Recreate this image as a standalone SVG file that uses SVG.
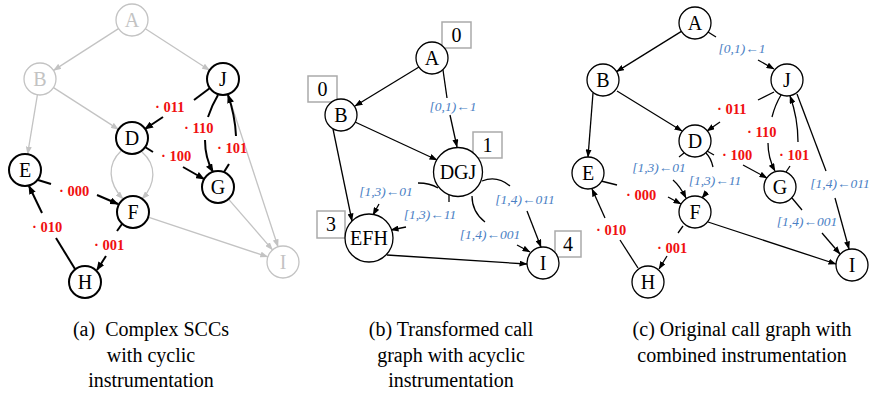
<svg xmlns="http://www.w3.org/2000/svg" width="882" height="395" viewBox="0 0 882 395">
  <style>
    .nd circle { fill: #fff; stroke: #000; stroke-width: 1.3; }
    .nd text { font-family: "Liberation Serif", "Tinos", "DejaVu Serif", serif; font-size: 20px; text-anchor: middle; fill: #000; }
    .thick circle { stroke-width: 2; }
    .grey circle { stroke: #c3c3c3; stroke-width: 1.3; }
    .grey text { fill: #c3c3c3; }
    .box rect { fill: #fff; stroke: #aaa; stroke-width: 1.5; }
    .box text { font-family: "Liberation Serif", "Tinos", "DejaVu Serif", serif; font-size: 20px; text-anchor: middle; fill: #000; }
    .e { fill: none; stroke: #000; stroke-width: 1.3; }
    .ea { fill: none; stroke: #000; stroke-width: 2; }
    .eg { fill: none; stroke: #c3c3c3; stroke-width: 1.3; }
    .lr { font-family: "Liberation Serif", "Tinos", "DejaVu Serif", serif; font-size: 14.5px; font-weight: bold; fill: #f01010; }
    .lb { font-family: "Liberation Serif", "Tinos", "DejaVu Serif", serif; font-size: 13.5px; font-style: italic; fill: #4a80c4; text-anchor: middle; }
    .cap { font-family: "Liberation Serif", "Tinos", "DejaVu Serif", serif; font-size: 20px; text-anchor: middle; fill: #000; }
  </style>
  <defs>
    <marker id="ak" viewBox="0 0 8 6" refX="7.5" refY="3" markerWidth="8" markerHeight="6" markerUnits="userSpaceOnUse" orient="auto">
      <path d="M0,0 L8,3 L0,6 z" fill="#000"/>
    </marker>
    <marker id="aa" viewBox="0 0 9 7" refX="8" refY="3.5" markerWidth="9" markerHeight="7" markerUnits="userSpaceOnUse" orient="auto">
      <path d="M0,0 L9,3.5 L0,7 z" fill="#000"/>
    </marker>
    <marker id="ag" viewBox="0 0 8 6" refX="7.5" refY="3" markerWidth="8" markerHeight="6" markerUnits="userSpaceOnUse" orient="auto">
      <path d="M0,0 L8,3 L0,6 z" fill="#c3c3c3"/>
    </marker>
  </defs>

  <!-- ===== (a) complex SCCs with cyclic instrumentation ===== -->
  <g id="edges-a">
    <path class="eg" d="M118.5,28.6 L53.5,70.4" marker-end="url(#ag)"/>
    <path class="eg" d="M145.4,28.7 L209.6,70.3" marker-end="url(#ag)"/>
    <path class="eg" d="M53.5,87.6 L118.5,129.4" marker-end="url(#ag)"/>
    <path class="eg" d="M37.4,94.8 L27.6,154.2" marker-end="url(#ag)"/>
    <path class="eg" d="M228,94.2 L278,246.8" marker-end="url(#ag)"/>
    <path class="eg" d="M228.5,199.1 L272.5,249.9" marker-end="url(#ag)"/>
    <path class="eg" d="M148.2,217.1 L267.8,256.9" marker-end="url(#ag)"/>
    <path class="eg" d="M121,151 C107,164 108,183 123,199" marker-end="url(#ag)"/>
    <path class="eg" d="M142,152 C157,165 156,184 142,199" marker-end="url(#ag)"/>

    <path class="ea" d="M210,88 L194,100"/>
    <path class="ea" d="M163,117 L145,129" marker-end="url(#aa)"/>
    <path class="ea" d="M218,95 Q212,105 208,117"/>
    <path class="ea" d="M205,140 Q205,158 213,172" marker-end="url(#aa)"/>
    <path class="ea" d="M224,172 L229,164"/>
    <path class="ea" d="M236,136 Q235,115 228,95" marker-end="url(#aa)"/>
    <path class="ea" d="M145,147 L153,152"/>
    <path class="ea" d="M183,167 L204,179" marker-end="url(#aa)"/>
    <path class="ea" d="M38,180 L51,184"/>
    <path class="ea" d="M97,195 L118,204" marker-end="url(#aa)"/>
    <path class="ea" d="M122,224 L117,231"/>
    <path class="ea" d="M106,256 L97,270" marker-end="url(#aa)"/>
    <path class="ea" d="M75,269 L56,238"/>
    <path class="ea" d="M42,213 L29,186" marker-end="url(#aa)"/>

    <text class="lr" x="155" y="112">· 011</text>
    <text class="lr" x="184" y="133">· 110</text>
    <text class="lr" x="217" y="153">· 101</text>
    <text class="lr" x="161" y="161">· 100</text>
    <text class="lr" x="59" y="196">· 000</text>
    <text class="lr" x="32" y="232">· 010</text>
    <text class="lr" x="94" y="250">· 001</text>
  </g>
  <g id="a-A" class="nd grey"><circle cx="132" cy="20" r="16"/><text x="132" y="27">A</text></g>
  <g id="a-B" class="nd grey"><circle cx="40" cy="79" r="16"/><text x="40" y="86">B</text></g>
  <g id="a-J" class="nd thick"><circle cx="223" cy="79" r="16"/><text x="223" y="86">J</text></g>
  <g id="a-D" class="nd thick"><circle cx="132" cy="138" r="16"/><text x="132" y="145">D</text></g>
  <g id="a-E" class="nd thick"><circle cx="25" cy="170" r="16"/><text x="25" y="177">E</text></g>
  <g id="a-F" class="nd thick"><circle cx="133" cy="212" r="16"/><text x="133" y="219">F</text></g>
  <g id="a-G" class="nd thick"><circle cx="218" cy="187" r="16"/><text x="218" y="194">G</text></g>
  <g id="a-H" class="nd thick"><circle cx="85" cy="282" r="16"/><text x="85" y="289">H</text></g>
  <g id="a-I" class="nd grey"><circle cx="283" cy="262" r="16"/><text x="283" y="269">I</text></g>

  <!-- ===== (b) transformed call graph with acyclic instrumentation ===== -->
  <g id="boxes-b" class="box">
    <rect x="442" y="22" width="29" height="26"/><text x="456.5" y="42">0</text>
    <rect x="308" y="76" width="29" height="26"/><text x="322.5" y="96">0</text>
    <rect x="473" y="132" width="29" height="26"/><text x="487.5" y="152">1</text>
    <rect x="317" y="211" width="28" height="27"/><text x="331" y="231">3</text>
    <rect x="555" y="231" width="26" height="26"/><text x="568" y="251">4</text>
  </g>
  <g id="edges-b">
    <path class="e" d="M419,67 L355,106" marker-end="url(#ak)"/>
    <path class="e" d="M443,70 L447,98"/>
    <path class="e" d="M450,115 L457,147" marker-end="url(#ak)"/>
    <path class="e" d="M355,122 L437,160" marker-end="url(#ak)"/>
    <path class="e" d="M333,129 L352,221" marker-end="url(#ak)"/>
    <path class="e" d="M387,255 L527,264" marker-end="url(#ak)"/>
    <path class="e" d="M418,183 Q430,183 438,188"/>
    <path class="e" d="M379,204 L373,215" marker-end="url(#ak)"/>
    <path class="e" d="M449,195 L449,202"/>
    <path class="e" d="M406,227 L391,230" marker-end="url(#ak)"/>
    <path class="e" d="M482,181 Q497,175 510,186"/>
    <path class="e" d="M527,211 L541,247" marker-end="url(#ak)"/>
    <path class="e" d="M472,196 Q472,212 485,222"/>
    <path class="e" d="M517,245 L530,252" marker-end="url(#ak)"/>

    <text class="lb" x="453" y="111">[0,1)←1</text>
    <text class="lb" x="386" y="196">[1,3)←01</text>
    <text class="lb" x="430" y="219">[1,3)←11</text>
    <text class="lb" x="525" y="204">[1,4)←011</text>
    <text class="lb" x="490" y="239">[1,4)←001</text>
  </g>
  <g id="b-A" class="nd"><circle cx="432" cy="58" r="16"/><text x="432" y="65">A</text></g>
  <g id="b-B" class="nd"><circle cx="341" cy="115" r="16"/><text x="341" y="122">B</text></g>
  <g id="b-DGJ" class="nd"><circle cx="458" cy="172" r="24.5"/><text x="458" y="179">DGJ</text></g>
  <g id="b-EFH" class="nd"><circle cx="369" cy="238" r="24"/><text x="369" y="245">EFH</text></g>
  <g id="b-I" class="nd"><circle cx="543" cy="263" r="16"/><text x="543" y="270">I</text></g>

  <!-- ===== (c) original call graph with combined instrumentation ===== -->
  <g id="edges-c">
    <path class="e" d="M681.4,31.4 L616.6,71.6" marker-end="url(#ak)"/>
    <path class="e" d="M708,32 L716,37"/>
    <path class="e" d="M758,60 L774,69" marker-end="url(#ak)"/>
    <path class="e" d="M593,93 L588,157" marker-end="url(#ak)"/>
    <path class="e" d="M617,91 L682,131" marker-end="url(#ak)"/>
    <path class="e" d="M774,92 L758,100"/>
    <path class="e" d="M720,122 L707,131" marker-end="url(#ak)"/>
    <path class="e" d="M781,95 Q775,105 772,117"/>
    <path class="e" d="M768,143 Q768,158 775,171" marker-end="url(#ak)"/>
    <path class="e" d="M786,172 L790,166"/>
    <path class="e" d="M798,142 Q798,118 790,96" marker-end="url(#ak)"/>
    <path class="e" d="M797,94 L826,171"/>
    <path class="e" d="M835,198 L849,249" marker-end="url(#ak)"/>
    <path class="e" d="M792,198 L802,210"/>
    <path class="e" d="M822,233 L840,254" marker-end="url(#ak)"/>
    <path class="e" d="M708,222 L836,264" marker-end="url(#ak)"/>
    <path class="e" d="M707,151 L714,155"/>
    <path class="e" d="M743,165 L767,178" marker-end="url(#ak)"/>
    <path class="e" d="M684,153 L679,157"/>
    <path class="e" d="M673,180 Q680,186 686,198" marker-end="url(#ak)"/>
    <path class="e" d="M706,153 Q711,158 713,167"/>
    <path class="e" d="M707,192 L702,198" marker-end="url(#ak)"/>
    <path class="e" d="M601,181 L617,185"/>
    <path class="e" d="M668,197 L681,204" marker-end="url(#ak)"/>
    <path class="e" d="M683,226 L678,233"/>
    <path class="e" d="M667,256 L659,269" marker-end="url(#ak)"/>
    <path class="e" d="M638,268 L620,240"/>
    <path class="e" d="M605,218 L592,189" marker-end="url(#ak)"/>

    <text class="lb" x="742" y="53">[0,1)←1</text>
    <text class="lb" x="659" y="172">[1,3)←01</text>
    <text class="lb" x="715" y="185">[1,3)←11</text>
    <text class="lb" x="840" y="188">[1,4)←011</text>
    <text class="lb" x="807" y="226">[1,4)←001</text>
    <text class="lr" x="717" y="114">· 011</text>
    <text class="lr" x="747" y="137">· 110</text>
    <text class="lr" x="779" y="160">· 101</text>
    <text class="lr" x="722" y="160">· 100</text>
    <text class="lr" x="626" y="200">· 000</text>
    <text class="lr" x="596" y="235">· 010</text>
    <text class="lr" x="657" y="253">· 001</text>
  </g>
  <g id="c-A" class="nd"><circle cx="695" cy="23" r="16"/><text x="695" y="30">A</text></g>
  <g id="c-B" class="nd"><circle cx="603" cy="80" r="16"/><text x="603" y="87">B</text></g>
  <g id="c-J" class="nd"><circle cx="787" cy="80" r="16"/><text x="787" y="87">J</text></g>
  <g id="c-D" class="nd"><circle cx="695" cy="141" r="16"/><text x="695" y="148">D</text></g>
  <g id="c-E" class="nd"><circle cx="588" cy="173" r="16"/><text x="588" y="180">E</text></g>
  <g id="c-F" class="nd"><circle cx="695" cy="212" r="16"/><text x="695" y="219">F</text></g>
  <g id="c-G" class="nd"><circle cx="780" cy="187" r="16"/><text x="780" y="194">G</text></g>
  <g id="c-H" class="nd"><circle cx="648" cy="282" r="16"/><text x="648" y="289">H</text></g>
  <g id="c-I" class="nd"><circle cx="852" cy="265" r="16"/><text x="852" y="272">I</text></g>

  <!-- captions -->
  <g id="captions">
    <text class="cap" x="151" y="336" xml:space="preserve">(a)  Complex SCCs</text>
    <text class="cap" x="151" y="362">with cyclic</text>
    <text class="cap" x="151" y="387">instrumentation</text>
    <text class="cap" x="451" y="336">(b) Transformed call</text>
    <text class="cap" x="451" y="362">graph with acyclic</text>
    <text class="cap" x="451" y="387">instrumentation</text>
    <text class="cap" x="742" y="336">(c) Original call graph with</text>
    <text class="cap" x="742" y="362">combined instrumentation</text>
  </g>
</svg>
